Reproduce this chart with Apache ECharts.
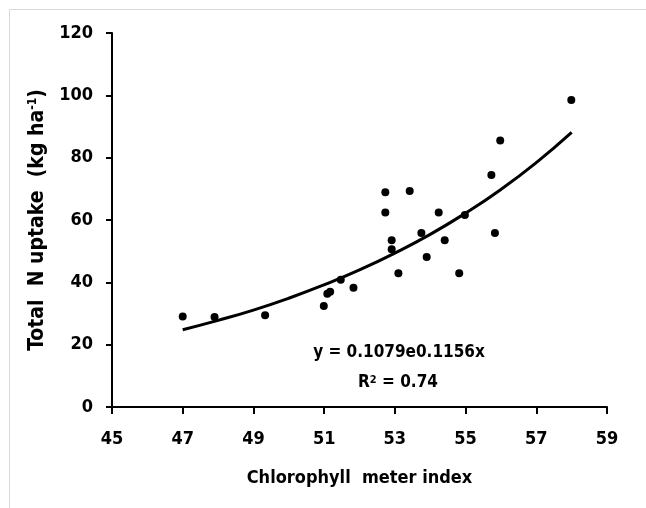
<!DOCTYPE html>
<html>
<head>
<meta charset="utf-8">
<script src="https://cdn.jsdelivr.net/npm/echarts@6/dist/echarts.min.js"></script>
<style>
html,body{margin:0;padding:0;background:#fff;}
#c{width:646px;height:508px;}
</style>
</head>
<body>
<div id="c"></div>
<script>
// Observed data (chlorophyll meter index, total N uptake)
var xValues = [47.0, 47.9, 49.33, 50.99, 51.09, 51.17, 51.47, 51.83, 52.73, 52.73, 52.91, 52.91, 53.10, 53.42, 53.75, 53.90, 54.24, 54.41, 54.82, 54.98, 55.73, 55.83, 55.98, 57.99];
var yValues = [29.0, 28.9, 29.4, 32.4, 36.3, 37.0, 40.8, 38.3, 68.9, 62.4, 53.5, 50.6, 42.9, 69.3, 55.8, 48.1, 62.4, 53.5, 42.9, 61.6, 74.4, 55.8, 85.5, 98.5];
// Trend curve
var trendX = [47, 48, 49, 50, 51, 52, 53, 54, 55, 56, 57, 58];
var trendY = [24.8, 27.8, 31.1, 34.9, 39.2, 44.0, 49.4, 55.4, 62.2, 69.8, 78.4, 88.1];
var xTicks = [45, 47, 49, 51, 53, 55, 57, 59];
var yTicks = [0, 20, 40, 60, 80, 100, 120];
var equationText = 'y = 0.1079e0.1156x';
var r2Text = 'R\u00B2 = 0.74';

var FONT = "'Liberation Sans Narrow', 'DejaVu Sans Condensed', 'Open Sans', sans-serif";
var chart = echarts.init(document.getElementById('c'), null, {renderer: 'canvas'});
var pts = xValues.map(function (x, i) { return [x, yValues[i]]; });
var trend = trendX.map(function (x, i) { return [x, trendY[i]]; });

chart.setOption({
  animation: false,
  backgroundColor: '#ffffff',
  grid: {left: 112, right: 39, top: 33, bottom: 101, containLabel: false},
  xAxis: {
    type: 'value', min: xTicks[0], max: xTicks[xTicks.length - 1], interval: 2,
    axisLine: {show: true, lineStyle: {color: '#000', width: 2}},
    axisTick: {show: true, length: 7, lineStyle: {color: '#000', width: 2}},
    splitLine: {show: false},
    axisLabel: {color: '#000', fontFamily: FONT, fontWeight: 'bold', fontSize: 18, margin: 23},
    name: 'Chlorophyll  meter index', nameLocation: 'middle', nameGap: 62,
    nameTextStyle: {color: '#000', fontFamily: FONT, fontWeight: 'bold', fontSize: 18}
  },
  yAxis: {
    type: 'value', min: yTicks[0], max: yTicks[yTicks.length - 1], interval: 20,
    axisLine: {show: true, lineStyle: {color: '#000', width: 2}},
    axisTick: {show: true, length: 6, lineStyle: {color: '#000', width: 2}},
    splitLine: {show: false},
    axisLabel: {color: '#000', fontFamily: FONT, fontWeight: 'bold', fontSize: 18, margin: 19},
    name: '{n|Total  N uptake  (kg ha}{s|-1}{n|)}', nameLocation: 'middle', nameGap: 58, nameRotate: 90,
    nameTextStyle: {
      color: '#000', fontFamily: FONT, fontWeight: 'bold', fontSize: 21,
      rich: {
        n: {color: '#000', fontFamily: FONT, fontWeight: 'bold', fontSize: 21},
        s: {color: '#000', fontFamily: FONT, fontWeight: 'bold', fontSize: 12, verticalAlign: 'top', padding: [0, 0, 8, 0]}
      }
    }
  },
  series: [
    {
      type: 'line', data: trend, smooth: true, showSymbol: false, symbol: 'none',
      lineStyle: {color: '#000', width: 3}, z: 2
    },
    {
      type: 'scatter', data: pts, symbol: 'circle', symbolSize: 8,
      itemStyle: {color: '#000', opacity: 1}, z: 3
    }
  ],
  graphic: [
    {type: 'line', shape: {x1: 9.5, y1: 9.5, x2: 646, y2: 9.5}, style: {stroke: '#d9d9d9', lineWidth: 1}},
    {type: 'line', shape: {x1: 9.5, y1: 9.5, x2: 9.5, y2: 508}, style: {stroke: '#d9d9d9', lineWidth: 1}},
    {type: 'text', x: 399, y: 353, style: {text: equationText, fill: '#000', font: 'bold 17px ' + FONT, textAlign: 'center', textVerticalAlign: 'middle'}},
    {type: 'text', x: 398, y: 383, style: {
      text: '{n|R}{s|2}{n| = 0.74}', textAlign: 'center', textVerticalAlign: 'middle',
      rich: {
        n: {fill: '#000', font: 'bold 17px ' + FONT},
        s: {fill: '#000', font: 'bold 11px ' + FONT, verticalAlign: 'top'}
      }
    }}
  ]
});
</script>
</body>
</html>
